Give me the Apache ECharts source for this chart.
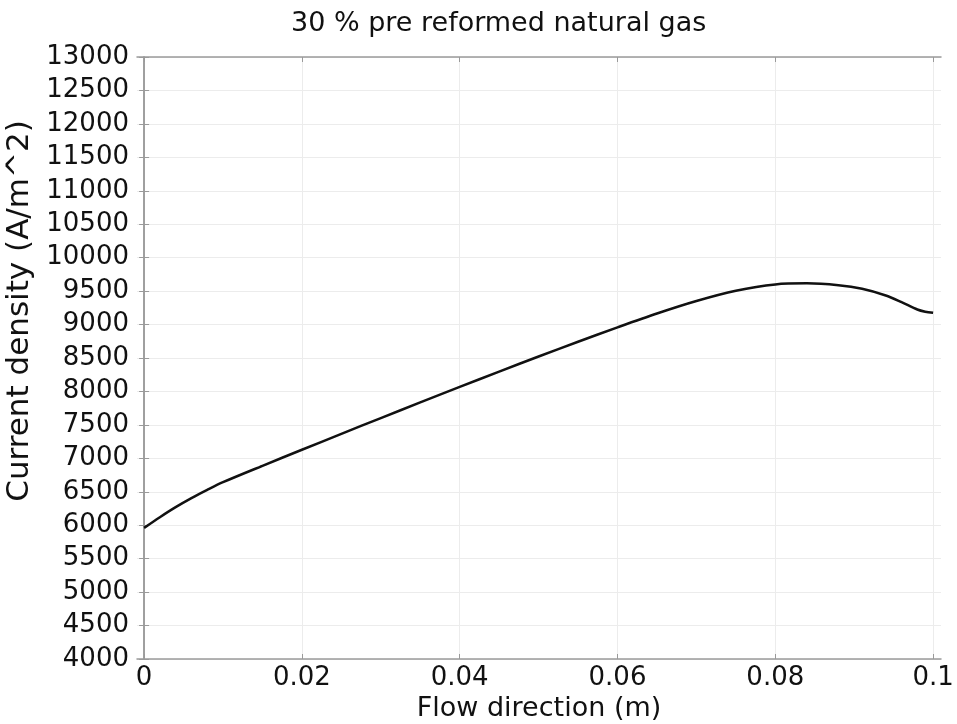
<!DOCTYPE html>
<html>
<head>
<meta charset="utf-8">
<script src="https://cdn.jsdelivr.net/npm/echarts@6/dist/echarts.min.js"></script>
<style>html,body{margin:0;padding:0;background:#fff}#c{width:957px;height:724px}</style>
</head>
<body>
<div id="c"></div>
<script>
var titleText = '30 % pre reformed natural gas';
var xName = 'Flow direction (m)';
var yName = 'Current density (A/m^2)';
var xTicks = [0, 0.02, 0.04, 0.06, 0.08, 0.1];
var xPos = [0, 0.002, 0.004, 0.006, 0.008, 0.01, 0.015, 0.02, 0.025, 0.03, 0.035, 0.04, 0.045, 0.05, 0.055, 0.06, 0.065, 0.07, 0.075, 0.08, 0.084, 0.088, 0.091, 0.094, 0.096, 0.098, 0.099, 0.1];
var density = [5960, 6120, 6270, 6405, 6528, 6643, 6888, 7128, 7366, 7602, 7836, 8068, 8297, 8522, 8743, 8958, 9165, 9352, 9505, 9600, 9616, 9588, 9535, 9435, 9335, 9225, 9192, 9175];

var FONT = 'DejaVu Sans';
var axisCol = '#9a9a9a';
var gridCol = '#ececec';
var data = xPos.map(function (x, i) { return [x, density[i]]; });

var chart = echarts.init(document.getElementById('c'), null, {renderer: 'canvas'});
chart.setOption({
  animation: false,
  backgroundColor: '#fff',
  title: {
    text: titleText, left: 286, top: 5,
    textStyle: {fontFamily: FONT, fontSize: 27, fontWeight: 'normal', color: '#111'}
  },
  grid: {left: 137, right: 16, top: 57, bottom: 65, containLabel: false, outerBoundsMode: 'none'},
  xAxis: [{
    type: 'value', min: -0.0009, max: 0.101,
    name: xName, nameLocation: 'middle', nameGap: 34,
    nameTextStyle: {fontFamily: FONT, fontSize: 27, color: '#111'},
    axisLine: {show: true, lineStyle: {color: axisCol, width: 1.5}},
    axisTick: {show: true, inside: true, length: 5, lineStyle: {color: axisCol}, customValues: xTicks},
    axisLabel: {fontFamily: FONT, fontSize: 26, color: '#111', margin: 6, customValues: xTicks,
      formatter: function (v) { return String(Math.round(v * 100) / 100); }},
    splitLine: {show: true, lineStyle: {color: gridCol, width: 1}}
  }, {
    type: 'value', position: 'top', min: -0.0009, max: 0.101,
    axisLine: {show: true, lineStyle: {color: axisCol, width: 1.5}},
    axisTick: {show: true, inside: true, length: 5, lineStyle: {color: axisCol}, customValues: xTicks},
    axisLabel: {show: false},
    splitLine: {show: false}
  }],
  yAxis: [{
    type: 'value', min: 4000, max: 13000, interval: 500,
    name: yName, nameLocation: 'middle', nameGap: 92, nameRotate: 90,
    nameTextStyle: {fontFamily: FONT, fontSize: 31, color: '#111', padding: [0, 0, 0, 94]},
    axisLine: {show: true, lineStyle: {color: axisCol, width: 1.5}},
    axisTick: {show: true, inside: true, length: 5, lineStyle: {color: axisCol}},
    axisLabel: {fontFamily: FONT, fontSize: 26, color: '#111', margin: 8,
      formatter: function (v) { return String(v); }},
    splitLine: {show: true, lineStyle: {color: gridCol, width: 1}}
  }, {
    type: 'value', position: 'right', min: 4000, max: 13000, interval: 500,
    axisLine: {show: true, lineStyle: {color: axisCol, width: 1.5}},
    axisTick: {show: true, inside: true, length: 5, lineStyle: {color: axisCol}},
    axisLabel: {show: false},
    splitLine: {show: false}
  }],
  series: [{
    type: 'line', data: data, xAxisIndex: 0, yAxisIndex: 0,
    smooth: 0.3, showSymbol: false, symbol: 'none',
    lineStyle: {color: '#111', width: 2.5}
  }]
});
</script>
</body>
</html>
